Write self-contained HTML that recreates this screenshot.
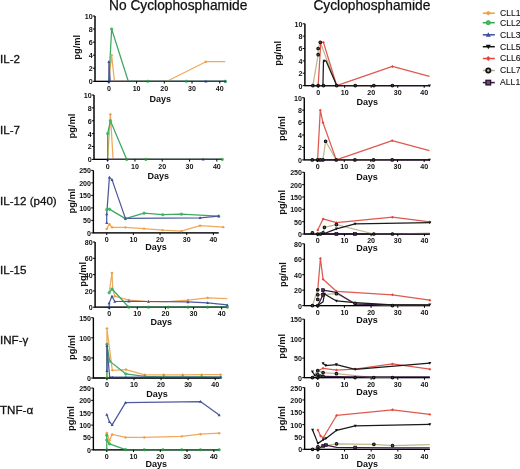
<!DOCTYPE html>
<html><head><meta charset="utf-8"><style>
html,body{margin:0;padding:0;background:#fff;}
svg{display:block;filter:blur(0.35px);}
text{font-family:"Liberation Sans", sans-serif;fill:#111;}
.tl{font-size:7.1px;font-weight:bold;}
.pg{font-size:9.3px;font-weight:bold;}
.dy{font-size:9px;font-weight:bold;}
.tt{font-size:13.75px;stroke:#111;stroke-width:0.25px;}
.rl{font-size:11.6px;stroke:#111;stroke-width:0.3px;}
.lg{font-size:8.6px;stroke:#111;stroke-width:0.1px;}
</style></head><body>
<svg width="520" height="469" viewBox="0 0 520 469">
<rect width="520" height="469" fill="#fff"/>
<path d="M95.00 16.00V81.30H225.30" fill="none" stroke="#000" stroke-width="1.3"/>
<polyline points="108.86,81.30 111.63,55.18 114.41,81.30 128.27,81.30 147.67,81.30 167.08,81.30 205.89,61.71 225.30,61.71" fill="none" stroke="#EEAA5E" stroke-width="1.25" stroke-linejoin="round"/>
<polyline points="108.86,81.30 111.63,29.06 128.27,81.30 147.67,81.30 167.08,81.30 186.49,81.30 225.30,81.30" fill="none" stroke="#3CA862" stroke-width="1.25" stroke-linejoin="round"/>
<polyline points="108.86,81.30 108.86,61.71 110.25,81.30 111.63,81.30 114.41,81.30 128.27,81.30 147.67,81.30 167.08,81.30 186.49,81.30 205.89,81.30 225.30,81.30" fill="none" stroke="#4E5A9E" stroke-width="1.25" stroke-linejoin="round"/>
<path d="M109.93 55.18L111.63 53.73L113.33 55.18L111.63 56.62Z" fill="#F0A040"/>
<path d="M204.19 61.71L205.89 60.27L207.59 61.71L205.89 63.16Z" fill="#F0A040"/>
<circle cx="111.63" cy="29.06" r="1.27" fill="#3fbf5f" stroke="#2DAA4E" stroke-width="0.51"/>
<circle cx="147.67" cy="81.30" r="1.27" fill="#3fbf5f" stroke="#2DAA4E" stroke-width="0.51"/>
<circle cx="186.49" cy="81.30" r="1.27" fill="#3fbf5f" stroke="#2DAA4E" stroke-width="0.51"/>
<circle cx="225.30" cy="81.30" r="1.27" fill="#3fbf5f" stroke="#2DAA4E" stroke-width="0.51"/>
<path d="M107.33 62.93L108.86 60.18L110.39 62.93Z" fill="#3B4E9E"/>
<path d="M107.33 82.52L108.86 79.77L110.39 82.52Z" fill="#3B4E9E"/>
<path d="M204.36 82.52L205.89 79.77L207.42 82.52Z" fill="#3B4E9E"/>
<path d="M223.77 82.52L225.30 79.77L226.83 82.52Z" fill="#3B4E9E"/>
<path d="M95.00 16.00V81.30H225.30" fill="none" stroke="#000" stroke-width="1.3" opacity="0.35"/>
<text x="92.60" y="84.20" class="tl" text-anchor="end">0</text>
<text x="92.60" y="71.14" class="tl" text-anchor="end">2</text>
<text x="92.60" y="58.08" class="tl" text-anchor="end">4</text>
<text x="92.60" y="45.02" class="tl" text-anchor="end">6</text>
<text x="92.60" y="31.96" class="tl" text-anchor="end">8</text>
<text x="92.60" y="18.90" class="tl" text-anchor="end">10</text>
<text x="108.86" y="90.50" class="tl" text-anchor="middle">0</text>
<text x="136.59" y="90.50" class="tl" text-anchor="middle">10</text>
<text x="164.31" y="90.50" class="tl" text-anchor="middle">20</text>
<text x="192.03" y="90.50" class="tl" text-anchor="middle">30</text>
<text x="219.76" y="90.50" class="tl" text-anchor="middle">40</text>
<path d="M92.80 81.30H95.00 M92.80 68.24H95.00 M92.80 55.18H95.00 M92.80 42.12H95.00 M92.80 29.06H95.00 M92.80 16.00H95.00 M108.86 81.30V83.50 M136.59 81.30V83.50 M164.31 81.30V83.50 M192.03 81.30V83.50 M219.76 81.30V83.50" stroke="#000" stroke-width="1"/>
<text transform="translate(79.80,47.30) rotate(-90)" class="pg" text-anchor="middle">pg/ml</text>
<text x="160.15" y="101.70" class="dy" text-anchor="middle">Days</text>
<path d="M94.00 95.00V159.40H222.30" fill="none" stroke="#000" stroke-width="1.3"/>
<polyline points="107.65,159.40 110.38,114.32 113.11,159.40 126.76,159.40 145.87,159.40 164.97,159.40 184.08,159.40 203.19,159.40 222.30,159.40" fill="none" stroke="#EEAA5E" stroke-width="1.25" stroke-linejoin="round"/>
<polyline points="107.65,159.40 107.65,133.64 110.38,120.76 126.76,159.40 145.87,159.40 164.97,159.40 184.08,159.40 203.19,159.40 222.30,159.40" fill="none" stroke="#3CA862" stroke-width="1.25" stroke-linejoin="round"/>
<polyline points="107.65,159.40 110.38,159.40 113.11,159.40 126.76,159.40 145.87,159.40 164.97,159.40 184.08,159.40 203.19,159.40 222.30,159.40" fill="none" stroke="#4E5A9E" stroke-width="1.25" stroke-linejoin="round"/>
<path d="M108.68 114.32L110.38 112.88L112.08 114.32L110.38 115.76Z" fill="#F0A040"/>
<circle cx="107.65" cy="133.64" r="1.27" fill="#3fbf5f" stroke="#2DAA4E" stroke-width="0.51"/>
<circle cx="110.38" cy="120.76" r="1.27" fill="#3fbf5f" stroke="#2DAA4E" stroke-width="0.51"/>
<circle cx="126.76" cy="159.40" r="1.27" fill="#3fbf5f" stroke="#2DAA4E" stroke-width="0.51"/>
<circle cx="145.87" cy="159.40" r="1.27" fill="#3fbf5f" stroke="#2DAA4E" stroke-width="0.51"/>
<circle cx="222.30" cy="159.40" r="1.27" fill="#3fbf5f" stroke="#2DAA4E" stroke-width="0.51"/>
<path d="M106.12 160.62L107.65 157.87L109.18 160.62Z" fill="#3B4E9E"/>
<path d="M201.66 160.62L203.19 157.87L204.72 160.62Z" fill="#3B4E9E"/>
<path d="M94.00 95.00V159.40H222.30" fill="none" stroke="#000" stroke-width="1.3" opacity="0.35"/>
<text x="91.60" y="162.30" class="tl" text-anchor="end">0</text>
<text x="91.60" y="149.42" class="tl" text-anchor="end">2</text>
<text x="91.60" y="136.54" class="tl" text-anchor="end">4</text>
<text x="91.60" y="123.66" class="tl" text-anchor="end">6</text>
<text x="91.60" y="110.78" class="tl" text-anchor="end">8</text>
<text x="91.60" y="97.90" class="tl" text-anchor="end">10</text>
<text x="107.65" y="168.60" class="tl" text-anchor="middle">0</text>
<text x="134.95" y="168.60" class="tl" text-anchor="middle">10</text>
<text x="162.24" y="168.60" class="tl" text-anchor="middle">20</text>
<text x="189.54" y="168.60" class="tl" text-anchor="middle">30</text>
<text x="216.84" y="168.60" class="tl" text-anchor="middle">40</text>
<path d="M91.80 159.40H94.00 M91.80 146.52H94.00 M91.80 133.64H94.00 M91.80 120.76H94.00 M91.80 107.88H94.00 M91.80 95.00H94.00 M107.65 159.40V161.60 M134.95 159.40V161.60 M162.24 159.40V161.60 M189.54 159.40V161.60 M216.84 159.40V161.60" stroke="#000" stroke-width="1"/>
<text transform="translate(75.00,126.10) rotate(-90)" class="pg" text-anchor="middle">pg/ml</text>
<text x="158.15" y="179.20" class="dy" text-anchor="middle">Days</text>
<path d="M93.40 170.40V232.90H218.70" fill="none" stroke="#000" stroke-width="1.3"/>
<polyline points="106.73,228.90 109.40,224.15 112.06,227.40 125.39,227.40 144.05,228.65 162.71,230.15 181.38,231.15 200.04,225.65 223.23,227.15" fill="none" stroke="#EEAA5E" stroke-width="1.25" stroke-linejoin="round"/>
<polyline points="106.73,209.65 109.40,209.15 125.39,218.65 144.05,213.15 162.71,214.65 181.38,214.15 218.70,216.15" fill="none" stroke="#3CA862" stroke-width="1.25" stroke-linejoin="round"/>
<polyline points="106.73,222.90 106.73,214.15 109.40,177.40 112.06,179.90 125.39,218.40 200.04,217.90 218.70,216.15" fill="none" stroke="#4E5A9E" stroke-width="1.25" stroke-linejoin="round"/>
<path d="M105.03 228.90L106.73 227.46L108.43 228.90L106.73 230.34Z" fill="#F0A040"/>
<path d="M107.70 224.15L109.40 222.71L111.10 224.15L109.40 225.59Z" fill="#F0A040"/>
<path d="M110.36 227.40L112.06 225.96L113.76 227.40L112.06 228.84Z" fill="#F0A040"/>
<path d="M123.69 227.40L125.39 225.96L127.09 227.40L125.39 228.84Z" fill="#F0A040"/>
<path d="M142.35 228.65L144.05 227.21L145.75 228.65L144.05 230.09Z" fill="#F0A040"/>
<path d="M161.01 230.15L162.71 228.71L164.41 230.15L162.71 231.59Z" fill="#F0A040"/>
<path d="M179.68 231.15L181.38 229.71L183.08 231.15L181.38 232.59Z" fill="#F0A040"/>
<path d="M198.34 225.65L200.04 224.21L201.74 225.65L200.04 227.09Z" fill="#F0A040"/>
<path d="M221.53 227.15L223.23 225.71L224.93 227.15L223.23 228.59Z" fill="#F0A040"/>
<circle cx="106.73" cy="209.65" r="1.27" fill="#3fbf5f" stroke="#2DAA4E" stroke-width="0.51"/>
<circle cx="109.40" cy="209.15" r="1.27" fill="#3fbf5f" stroke="#2DAA4E" stroke-width="0.51"/>
<circle cx="125.39" cy="218.65" r="1.27" fill="#3fbf5f" stroke="#2DAA4E" stroke-width="0.51"/>
<circle cx="144.05" cy="213.15" r="1.27" fill="#3fbf5f" stroke="#2DAA4E" stroke-width="0.51"/>
<circle cx="162.71" cy="214.65" r="1.27" fill="#3fbf5f" stroke="#2DAA4E" stroke-width="0.51"/>
<circle cx="181.38" cy="214.15" r="1.27" fill="#3fbf5f" stroke="#2DAA4E" stroke-width="0.51"/>
<circle cx="218.70" cy="216.15" r="1.27" fill="#3fbf5f" stroke="#2DAA4E" stroke-width="0.51"/>
<path d="M105.20 224.12L106.73 221.37L108.26 224.12Z" fill="#3B4E9E"/>
<path d="M105.20 215.37L106.73 212.62L108.26 215.37Z" fill="#3B4E9E"/>
<path d="M107.87 178.62L109.40 175.87L110.93 178.62Z" fill="#3B4E9E"/>
<path d="M110.53 181.12L112.06 178.37L113.59 181.12Z" fill="#3B4E9E"/>
<path d="M123.86 219.62L125.39 216.87L126.92 219.62Z" fill="#3B4E9E"/>
<path d="M198.51 219.12L200.04 216.37L201.57 219.12Z" fill="#3B4E9E"/>
<path d="M217.17 217.37L218.70 214.62L220.23 217.37Z" fill="#3B4E9E"/>
<path d="M93.40 170.40V232.90H218.70" fill="none" stroke="#000" stroke-width="1.3" opacity="0.35"/>
<text x="91.00" y="235.80" class="tl" text-anchor="end">0</text>
<text x="91.00" y="223.30" class="tl" text-anchor="end">50</text>
<text x="91.00" y="210.80" class="tl" text-anchor="end">100</text>
<text x="91.00" y="198.30" class="tl" text-anchor="end">150</text>
<text x="91.00" y="185.80" class="tl" text-anchor="end">200</text>
<text x="91.00" y="173.30" class="tl" text-anchor="end">250</text>
<text x="106.73" y="242.10" class="tl" text-anchor="middle">0</text>
<text x="133.39" y="242.10" class="tl" text-anchor="middle">10</text>
<text x="160.05" y="242.10" class="tl" text-anchor="middle">20</text>
<text x="186.71" y="242.10" class="tl" text-anchor="middle">30</text>
<text x="213.37" y="242.10" class="tl" text-anchor="middle">40</text>
<path d="M91.20 232.90H93.40 M91.20 220.40H93.40 M91.20 207.90H93.40 M91.20 195.40H93.40 M91.20 182.90H93.40 M91.20 170.40H93.40 M106.73 232.90V235.10 M133.39 232.90V235.10 M160.05 232.90V235.10 M186.71 232.90V235.10 M213.37 232.90V235.10" stroke="#000" stroke-width="1"/>
<text transform="translate(75.00,201.10) rotate(-90)" class="pg" text-anchor="middle">pg/ml</text>
<text x="156.05" y="250.20" class="dy" text-anchor="middle">Days</text>
<path d="M95.10 242.00V307.20H227.30" fill="none" stroke="#000" stroke-width="1.3"/>
<polyline points="109.16,292.53 111.98,272.97 112.82,289.27 114.79,296.20 128.85,300.03 148.54,301.50 168.23,301.50 187.92,300.11 207.61,297.83 227.30,298.64" fill="none" stroke="#EEAA5E" stroke-width="1.25" stroke-linejoin="round"/>
<polyline points="109.16,292.77 111.98,289.03 128.85,307.20 148.54,307.20 168.23,307.20 187.92,307.20 207.61,307.20 227.30,307.20" fill="none" stroke="#3CA862" stroke-width="1.25" stroke-linejoin="round"/>
<polyline points="109.16,307.20 109.16,303.12 111.98,296.20 114.79,301.50 128.85,301.33 148.54,301.50 187.92,301.90 207.61,302.88 227.30,304.92" fill="none" stroke="#4E5A9E" stroke-width="1.25" stroke-linejoin="round"/>
<path d="M110.28 272.97L111.98 271.52L113.68 272.97L111.98 274.41Z" fill="#F0A040"/>
<path d="M113.09 296.20L114.79 294.75L116.49 296.20L114.79 297.64Z" fill="#F0A040"/>
<path d="M127.15 300.03L128.85 298.58L130.55 300.03L128.85 301.47Z" fill="#F0A040"/>
<path d="M146.84 301.50L148.54 300.05L150.24 301.50L148.54 302.94Z" fill="#F0A040"/>
<path d="M186.22 300.11L187.92 298.66L189.62 300.11L187.92 301.55Z" fill="#F0A040"/>
<path d="M205.91 297.83L207.61 296.38L209.31 297.83L207.61 299.27Z" fill="#F0A040"/>
<circle cx="109.16" cy="292.77" r="1.27" fill="#3fbf5f" stroke="#2DAA4E" stroke-width="0.51"/>
<circle cx="111.98" cy="289.03" r="1.27" fill="#3fbf5f" stroke="#2DAA4E" stroke-width="0.51"/>
<circle cx="128.85" cy="307.20" r="1.27" fill="#3fbf5f" stroke="#2DAA4E" stroke-width="0.51"/>
<circle cx="148.54" cy="307.20" r="1.27" fill="#3fbf5f" stroke="#2DAA4E" stroke-width="0.51"/>
<circle cx="168.23" cy="307.20" r="1.27" fill="#3fbf5f" stroke="#2DAA4E" stroke-width="0.51"/>
<circle cx="187.92" cy="307.20" r="1.27" fill="#3fbf5f" stroke="#2DAA4E" stroke-width="0.51"/>
<circle cx="207.61" cy="307.20" r="1.27" fill="#3fbf5f" stroke="#2DAA4E" stroke-width="0.51"/>
<circle cx="227.30" cy="307.20" r="1.27" fill="#3fbf5f" stroke="#2DAA4E" stroke-width="0.51"/>
<path d="M107.63 308.42L109.16 305.67L110.69 308.42Z" fill="#3B4E9E"/>
<path d="M107.63 304.35L109.16 301.60L110.69 304.35Z" fill="#3B4E9E"/>
<path d="M110.45 297.42L111.98 294.67L113.51 297.42Z" fill="#3B4E9E"/>
<path d="M113.26 302.72L114.79 299.97L116.32 302.72Z" fill="#3B4E9E"/>
<path d="M127.32 302.56L128.85 299.80L130.38 302.56Z" fill="#3B4E9E"/>
<path d="M147.01 302.72L148.54 299.97L150.07 302.72Z" fill="#3B4E9E"/>
<path d="M186.39 303.13L187.92 300.37L189.45 303.13Z" fill="#3B4E9E"/>
<path d="M206.08 304.10L207.61 301.35L209.14 304.10Z" fill="#3B4E9E"/>
<path d="M225.77 306.14L227.30 303.39L228.83 306.14Z" fill="#3B4E9E"/>
<path d="M95.10 242.00V307.20H227.30" fill="none" stroke="#000" stroke-width="1.3" opacity="0.35"/>
<text x="92.70" y="310.10" class="tl" text-anchor="end">0</text>
<text x="92.70" y="293.80" class="tl" text-anchor="end">20</text>
<text x="92.70" y="277.50" class="tl" text-anchor="end">40</text>
<text x="92.70" y="261.20" class="tl" text-anchor="end">60</text>
<text x="92.70" y="244.90" class="tl" text-anchor="end">80</text>
<text x="109.16" y="316.40" class="tl" text-anchor="middle">0</text>
<text x="137.29" y="316.40" class="tl" text-anchor="middle">10</text>
<text x="165.42" y="316.40" class="tl" text-anchor="middle">20</text>
<text x="193.55" y="316.40" class="tl" text-anchor="middle">30</text>
<text x="221.67" y="316.40" class="tl" text-anchor="middle">40</text>
<path d="M92.90 307.20H95.10 M92.90 290.90H95.10 M92.90 274.60H95.10 M92.90 258.30H95.10 M92.90 242.00H95.10 M109.16 307.20V309.40 M137.29 307.20V309.40 M165.42 307.20V309.40 M193.55 307.20V309.40 M221.67 307.20V309.40" stroke="#000" stroke-width="1"/>
<text transform="translate(85.80,274.30) rotate(-90)" class="pg" text-anchor="middle">pg/ml</text>
<text x="161.20" y="325.40" class="dy" text-anchor="middle">Days</text>
<path d="M93.40 317.70V378.00H220.60" fill="none" stroke="#000" stroke-width="1.3"/>
<polyline points="106.93,378.00 106.93,328.55 112.34,370.36 125.88,369.56 144.82,374.78 163.77,374.78 182.71,374.78 201.66,374.58 220.60,374.58" fill="none" stroke="#EEAA5E" stroke-width="1.25" stroke-linejoin="round"/>
<polyline points="106.93,378.00 106.93,344.23 109.64,361.12 125.88,373.98 144.82,376.39 163.77,376.79 182.71,376.79 201.66,376.79 220.60,377.20" fill="none" stroke="#3CA862" stroke-width="1.25" stroke-linejoin="round"/>
<polyline points="106.93,370.76 106.93,345.84 109.64,376.79 112.34,377.20 125.88,377.20 144.82,377.20 163.77,377.20 182.71,377.20 201.66,377.20 220.60,377.20" fill="none" stroke="#4E5A9E" stroke-width="1.25" stroke-linejoin="round"/>
<path d="M105.23 378.00L106.93 376.56L108.63 378.00L106.93 379.44Z" fill="#F0A040"/>
<path d="M105.23 328.55L106.93 327.11L108.63 328.55L106.93 330.00Z" fill="#F0A040"/>
<path d="M110.64 370.36L112.34 368.92L114.04 370.36L112.34 371.81Z" fill="#F0A040"/>
<path d="M124.18 369.56L125.88 368.11L127.58 369.56L125.88 371.00Z" fill="#F0A040"/>
<path d="M143.12 374.78L144.82 373.34L146.52 374.78L144.82 376.23Z" fill="#F0A040"/>
<path d="M162.07 374.78L163.77 373.34L165.47 374.78L163.77 376.23Z" fill="#F0A040"/>
<path d="M181.01 374.78L182.71 373.34L184.41 374.78L182.71 376.23Z" fill="#F0A040"/>
<path d="M199.96 374.58L201.66 373.14L203.36 374.58L201.66 376.03Z" fill="#F0A040"/>
<path d="M218.90 374.58L220.60 373.14L222.30 374.58L220.60 376.03Z" fill="#F0A040"/>
<circle cx="106.93" cy="378.00" r="1.27" fill="#3fbf5f" stroke="#2DAA4E" stroke-width="0.51"/>
<circle cx="106.93" cy="344.23" r="1.27" fill="#3fbf5f" stroke="#2DAA4E" stroke-width="0.51"/>
<circle cx="109.64" cy="361.12" r="1.27" fill="#3fbf5f" stroke="#2DAA4E" stroke-width="0.51"/>
<circle cx="125.88" cy="373.98" r="1.27" fill="#3fbf5f" stroke="#2DAA4E" stroke-width="0.51"/>
<circle cx="144.82" cy="376.39" r="1.27" fill="#3fbf5f" stroke="#2DAA4E" stroke-width="0.51"/>
<circle cx="163.77" cy="376.79" r="1.27" fill="#3fbf5f" stroke="#2DAA4E" stroke-width="0.51"/>
<circle cx="182.71" cy="376.79" r="1.27" fill="#3fbf5f" stroke="#2DAA4E" stroke-width="0.51"/>
<circle cx="201.66" cy="376.79" r="1.27" fill="#3fbf5f" stroke="#2DAA4E" stroke-width="0.51"/>
<circle cx="220.60" cy="377.20" r="1.27" fill="#3fbf5f" stroke="#2DAA4E" stroke-width="0.51"/>
<path d="M105.40 371.99L106.93 369.23L108.46 371.99Z" fill="#3B4E9E"/>
<path d="M105.40 347.06L106.93 344.31L108.46 347.06Z" fill="#3B4E9E"/>
<path d="M108.11 378.02L109.64 375.26L111.17 378.02Z" fill="#3B4E9E"/>
<path d="M110.81 378.42L112.34 375.67L113.87 378.42Z" fill="#3B4E9E"/>
<path d="M124.35 378.42L125.88 375.67L127.41 378.42Z" fill="#3B4E9E"/>
<path d="M143.29 378.42L144.82 375.67L146.35 378.42Z" fill="#3B4E9E"/>
<path d="M162.24 378.42L163.77 375.67L165.30 378.42Z" fill="#3B4E9E"/>
<path d="M181.18 378.42L182.71 375.67L184.24 378.42Z" fill="#3B4E9E"/>
<path d="M200.13 378.42L201.66 375.67L203.19 378.42Z" fill="#3B4E9E"/>
<path d="M219.07 378.42L220.60 375.67L222.13 378.42Z" fill="#3B4E9E"/>
<path d="M93.40 317.70V378.00H220.60" fill="none" stroke="#000" stroke-width="1.3" opacity="0.35"/>
<text x="91.00" y="380.90" class="tl" text-anchor="end">0</text>
<text x="91.00" y="360.80" class="tl" text-anchor="end">50</text>
<text x="91.00" y="340.70" class="tl" text-anchor="end">100</text>
<text x="91.00" y="320.60" class="tl" text-anchor="end">150</text>
<text x="106.93" y="387.20" class="tl" text-anchor="middle">0</text>
<text x="134.00" y="387.20" class="tl" text-anchor="middle">10</text>
<text x="161.06" y="387.20" class="tl" text-anchor="middle">20</text>
<text x="188.12" y="387.20" class="tl" text-anchor="middle">30</text>
<text x="215.19" y="387.20" class="tl" text-anchor="middle">40</text>
<path d="M91.20 378.00H93.40 M91.20 357.90H93.40 M91.20 337.80H93.40 M91.20 317.70H93.40 M106.93 378.00V380.20 M134.00 378.00V380.20 M161.06 378.00V380.20 M188.12 378.00V380.20 M215.19 378.00V380.20" stroke="#000" stroke-width="1"/>
<text transform="translate(74.80,347.50) rotate(-90)" class="pg" text-anchor="middle">pg/ml</text>
<text x="157.00" y="396.50" class="dy" text-anchor="middle">Days</text>
<path d="M93.40 388.00V449.80H219.20" fill="none" stroke="#000" stroke-width="1.3"/>
<polyline points="106.78,432.99 109.46,440.65 112.14,434.47 125.52,437.44 144.26,437.44 181.73,436.33 200.46,434.23 219.20,433.24" fill="none" stroke="#EEAA5E" stroke-width="1.25" stroke-linejoin="round"/>
<polyline points="106.78,449.80 106.78,435.22 106.78,439.91 109.46,443.87 125.52,449.55 144.26,449.80 162.99,449.80 181.73,449.80 200.46,449.80 219.20,449.80" fill="none" stroke="#3CA862" stroke-width="1.25" stroke-linejoin="round"/>
<polyline points="106.78,414.45 109.46,421.87 112.14,424.83 125.52,402.58 200.46,401.60 219.20,414.94" fill="none" stroke="#4E5A9E" stroke-width="1.25" stroke-linejoin="round"/>
<path d="M105.08 432.99L106.78 431.55L108.48 432.99L106.78 434.44Z" fill="#F0A040"/>
<path d="M107.76 440.65L109.46 439.21L111.16 440.65L109.46 442.10Z" fill="#F0A040"/>
<path d="M110.44 434.47L112.14 433.03L113.84 434.47L112.14 435.92Z" fill="#F0A040"/>
<path d="M123.82 437.44L125.52 436.00L127.22 437.44L125.52 438.88Z" fill="#F0A040"/>
<path d="M142.56 437.44L144.26 436.00L145.96 437.44L144.26 438.88Z" fill="#F0A040"/>
<path d="M180.03 436.33L181.73 434.88L183.43 436.33L181.73 437.77Z" fill="#F0A040"/>
<path d="M198.76 434.23L200.46 432.78L202.16 434.23L200.46 435.67Z" fill="#F0A040"/>
<path d="M217.50 433.24L219.20 431.79L220.90 433.24L219.20 434.68Z" fill="#F0A040"/>
<circle cx="106.78" cy="449.80" r="1.27" fill="#3fbf5f" stroke="#2DAA4E" stroke-width="0.51"/>
<circle cx="106.78" cy="435.22" r="1.27" fill="#3fbf5f" stroke="#2DAA4E" stroke-width="0.51"/>
<circle cx="106.78" cy="439.91" r="1.27" fill="#3fbf5f" stroke="#2DAA4E" stroke-width="0.51"/>
<circle cx="109.46" cy="443.87" r="1.27" fill="#3fbf5f" stroke="#2DAA4E" stroke-width="0.51"/>
<circle cx="125.52" cy="449.55" r="1.27" fill="#3fbf5f" stroke="#2DAA4E" stroke-width="0.51"/>
<circle cx="144.26" cy="449.80" r="1.27" fill="#3fbf5f" stroke="#2DAA4E" stroke-width="0.51"/>
<circle cx="162.99" cy="449.80" r="1.27" fill="#3fbf5f" stroke="#2DAA4E" stroke-width="0.51"/>
<circle cx="181.73" cy="449.80" r="1.27" fill="#3fbf5f" stroke="#2DAA4E" stroke-width="0.51"/>
<circle cx="200.46" cy="449.80" r="1.27" fill="#3fbf5f" stroke="#2DAA4E" stroke-width="0.51"/>
<circle cx="219.20" cy="449.80" r="1.27" fill="#3fbf5f" stroke="#2DAA4E" stroke-width="0.51"/>
<path d="M105.25 415.67L106.78 412.92L108.31 415.67Z" fill="#3B4E9E"/>
<path d="M107.93 423.09L109.46 420.34L110.99 423.09Z" fill="#3B4E9E"/>
<path d="M110.61 426.06L112.14 423.30L113.67 426.06Z" fill="#3B4E9E"/>
<path d="M123.99 403.81L125.52 401.05L127.05 403.81Z" fill="#3B4E9E"/>
<path d="M198.93 402.82L200.46 400.07L201.99 402.82Z" fill="#3B4E9E"/>
<path d="M217.67 416.17L219.20 413.41L220.73 416.17Z" fill="#3B4E9E"/>
<path d="M93.40 388.00V449.80H219.20" fill="none" stroke="#000" stroke-width="1.3" opacity="0.35"/>
<text x="91.00" y="452.70" class="tl" text-anchor="end">0</text>
<text x="91.00" y="440.34" class="tl" text-anchor="end">50</text>
<text x="91.00" y="427.98" class="tl" text-anchor="end">100</text>
<text x="91.00" y="415.62" class="tl" text-anchor="end">150</text>
<text x="91.00" y="403.26" class="tl" text-anchor="end">200</text>
<text x="91.00" y="390.90" class="tl" text-anchor="end">250</text>
<text x="106.78" y="459.00" class="tl" text-anchor="middle">0</text>
<text x="133.55" y="459.00" class="tl" text-anchor="middle">10</text>
<text x="160.31" y="459.00" class="tl" text-anchor="middle">20</text>
<text x="187.08" y="459.00" class="tl" text-anchor="middle">30</text>
<text x="213.85" y="459.00" class="tl" text-anchor="middle">40</text>
<path d="M91.20 449.80H93.40 M91.20 437.44H93.40 M91.20 425.08H93.40 M91.20 412.72H93.40 M91.20 400.36H93.40 M91.20 388.00H93.40 M106.78 449.80V452.00 M133.55 449.80V452.00 M160.31 449.80V452.00 M187.08 449.80V452.00 M213.85 449.80V452.00" stroke="#000" stroke-width="1"/>
<text transform="translate(74.10,418.50) rotate(-90)" class="pg" text-anchor="middle">pg/ml</text>
<text x="156.30" y="466.70" class="dy" text-anchor="middle">Days</text>
<path d="M304.90 23.80V85.60H429.50" fill="none" stroke="#000" stroke-width="1.3"/>
<polyline points="312.85,85.60 318.16,54.70 318.16,48.52 320.28,42.34 336.71,85.60 355.27,85.60 373.83,85.60 392.39,85.60" fill="none" stroke="#C2B68E" stroke-width="1.25" stroke-linejoin="round"/>
<polyline points="318.16,85.60 320.81,42.34 323.46,42.34 336.71,85.60 392.39,66.44 429.50,76.33" fill="none" stroke="#DD5A50" stroke-width="1.25" stroke-linejoin="round"/>
<polyline points="312.85,85.60 429.50,85.60" fill="none" stroke="#3A1A48" stroke-width="1.25" stroke-linejoin="round"/>
<polyline points="322.93,85.60 323.46,60.88 326.11,60.88 336.71,85.60" fill="none" stroke="#1a1a1a" stroke-width="1.25" stroke-linejoin="round"/>
<path d="M319.36 42.34L320.81 40.89L322.25 42.34L320.81 43.78Z" fill="#E8453A"/>
<path d="M322.01 42.34L323.46 40.89L324.90 42.34L323.46 43.78Z" fill="#E8453A"/>
<path d="M390.94 66.44L392.39 65.00L393.83 66.44L392.39 67.89Z" fill="#E8453A"/>
<circle cx="312.85" cy="85.60" r="1.32" fill="#555" stroke="#111" stroke-width="1.06"/>
<circle cx="318.16" cy="85.60" r="1.32" fill="#555" stroke="#111" stroke-width="1.06"/>
<circle cx="323.46" cy="85.60" r="1.32" fill="#555" stroke="#111" stroke-width="1.06"/>
<circle cx="318.16" cy="54.70" r="1.32" fill="#555" stroke="#111" stroke-width="1.06"/>
<circle cx="318.16" cy="48.52" r="1.32" fill="#555" stroke="#111" stroke-width="1.06"/>
<circle cx="320.28" cy="42.34" r="1.32" fill="#555" stroke="#111" stroke-width="1.06"/>
<circle cx="336.71" cy="85.60" r="1.32" fill="#555" stroke="#111" stroke-width="1.06"/>
<circle cx="355.27" cy="85.60" r="1.32" fill="#555" stroke="#111" stroke-width="1.06"/>
<circle cx="373.83" cy="85.60" r="1.32" fill="#555" stroke="#111" stroke-width="1.06"/>
<circle cx="392.39" cy="85.60" r="1.32" fill="#555" stroke="#111" stroke-width="1.06"/>
<path d="M322.72 59.66L325.78 59.66L324.25 62.41Z" fill="#111111"/>
<path d="M427.97 84.38L431.03 84.38L429.50 87.13Z" fill="#111111"/>
<path d="M304.90 23.80V85.60H429.50" fill="none" stroke="#000" stroke-width="1.3" opacity="0.35"/>
<text x="302.50" y="88.50" class="tl" text-anchor="end">0</text>
<text x="302.50" y="76.14" class="tl" text-anchor="end">2</text>
<text x="302.50" y="63.78" class="tl" text-anchor="end">4</text>
<text x="302.50" y="51.42" class="tl" text-anchor="end">6</text>
<text x="302.50" y="39.06" class="tl" text-anchor="end">8</text>
<text x="302.50" y="26.70" class="tl" text-anchor="end">10</text>
<text x="318.16" y="94.80" class="tl" text-anchor="middle">0</text>
<text x="344.67" y="94.80" class="tl" text-anchor="middle">10</text>
<text x="371.18" y="94.80" class="tl" text-anchor="middle">20</text>
<text x="397.69" y="94.80" class="tl" text-anchor="middle">30</text>
<text x="424.20" y="94.80" class="tl" text-anchor="middle">40</text>
<path d="M302.70 85.60H304.90 M302.70 73.24H304.90 M302.70 60.88H304.90 M302.70 48.52H304.90 M302.70 36.16H304.90 M302.70 23.80H304.90 M318.16 85.60V87.80 M344.67 85.60V87.80 M371.18 85.60V87.80 M397.69 85.60V87.80 M424.20 85.60V87.80" stroke="#000" stroke-width="1"/>
<text transform="translate(280.70,53.40) rotate(-90)" class="pg" text-anchor="middle">pg/ml</text>
<text x="367.20" y="105.20" class="dy" text-anchor="middle">Days</text>
<path d="M304.30 97.70V159.90H429.50" fill="none" stroke="#000" stroke-width="1.3"/>
<polyline points="312.29,159.90 317.62,159.90 320.28,159.90 322.95,159.90 325.61,141.24 336.27,159.90 354.91,159.90 373.56,159.90 392.21,159.90" fill="none" stroke="#C2B68E" stroke-width="1.25" stroke-linejoin="round"/>
<polyline points="317.62,159.90 320.28,110.14 322.95,122.58 336.27,159.90 392.21,140.62 429.50,150.57" fill="none" stroke="#DD5A50" stroke-width="1.25" stroke-linejoin="round"/>
<polyline points="312.29,159.90 429.50,159.90" fill="none" stroke="#3A1A48" stroke-width="1.25" stroke-linejoin="round"/>
<path d="M318.84 110.14L320.28 108.70L321.73 110.14L320.28 111.58Z" fill="#E8453A"/>
<path d="M321.50 122.58L322.95 121.14L324.39 122.58L322.95 124.02Z" fill="#E8453A"/>
<path d="M390.76 140.62L392.21 139.17L393.65 140.62L392.21 142.06Z" fill="#E8453A"/>
<circle cx="312.29" cy="159.90" r="1.32" fill="#555" stroke="#111" stroke-width="1.06"/>
<circle cx="317.62" cy="159.90" r="1.32" fill="#555" stroke="#111" stroke-width="1.06"/>
<circle cx="320.28" cy="159.90" r="1.32" fill="#555" stroke="#111" stroke-width="1.06"/>
<circle cx="322.95" cy="159.90" r="1.32" fill="#555" stroke="#111" stroke-width="1.06"/>
<circle cx="325.61" cy="141.24" r="1.32" fill="#555" stroke="#111" stroke-width="1.06"/>
<circle cx="336.27" cy="159.90" r="1.32" fill="#555" stroke="#111" stroke-width="1.06"/>
<circle cx="354.91" cy="159.90" r="1.32" fill="#555" stroke="#111" stroke-width="1.06"/>
<circle cx="373.56" cy="159.90" r="1.32" fill="#555" stroke="#111" stroke-width="1.06"/>
<circle cx="392.21" cy="159.90" r="1.32" fill="#555" stroke="#111" stroke-width="1.06"/>
<path d="M427.97 158.68L431.03 158.68L429.50 161.43Z" fill="#111111"/>
<path d="M304.30 97.70V159.90H429.50" fill="none" stroke="#000" stroke-width="1.3" opacity="0.35"/>
<text x="301.90" y="162.80" class="tl" text-anchor="end">0</text>
<text x="301.90" y="150.36" class="tl" text-anchor="end">2</text>
<text x="301.90" y="137.92" class="tl" text-anchor="end">4</text>
<text x="301.90" y="125.48" class="tl" text-anchor="end">6</text>
<text x="301.90" y="113.04" class="tl" text-anchor="end">8</text>
<text x="301.90" y="100.60" class="tl" text-anchor="end">10</text>
<text x="317.62" y="169.10" class="tl" text-anchor="middle">0</text>
<text x="344.26" y="169.10" class="tl" text-anchor="middle">10</text>
<text x="370.90" y="169.10" class="tl" text-anchor="middle">20</text>
<text x="397.53" y="169.10" class="tl" text-anchor="middle">30</text>
<text x="424.17" y="169.10" class="tl" text-anchor="middle">40</text>
<path d="M302.10 159.90H304.30 M302.10 147.46H304.30 M302.10 135.02H304.30 M302.10 122.58H304.30 M302.10 110.14H304.30 M302.10 97.70H304.30 M317.62 159.90V162.10 M344.26 159.90V162.10 M370.90 159.90V162.10 M397.53 159.90V162.10 M424.17 159.90V162.10" stroke="#000" stroke-width="1"/>
<text transform="translate(285.30,128.50) rotate(-90)" class="pg" text-anchor="middle">pg/ml</text>
<text x="366.90" y="179.50" class="dy" text-anchor="middle">Days</text>
<path d="M304.40 172.30V234.00H429.80" fill="none" stroke="#000" stroke-width="1.3"/>
<polyline points="312.40,232.77 317.74,234.00 320.41,234.00 323.08,232.77 324.41,227.34 336.42,224.62 373.77,234.00 392.45,234.00 429.80,233.01" fill="none" stroke="#C2B68E" stroke-width="1.25" stroke-linejoin="round"/>
<polyline points="317.74,230.05 323.08,218.95 336.42,222.65 392.45,217.22 429.80,221.91" fill="none" stroke="#DD5A50" stroke-width="1.25" stroke-linejoin="round"/>
<polyline points="312.40,234.00 429.80,234.00" fill="none" stroke="#3A1A48" stroke-width="1.25" stroke-linejoin="round"/>
<polyline points="317.74,234.00 323.08,234.00 336.42,228.82 355.09,223.88 429.80,222.65" fill="none" stroke="#1a1a1a" stroke-width="1.25" stroke-linejoin="round"/>
<path d="M316.30 230.05L317.74 228.61L319.19 230.05L317.74 231.50Z" fill="#E8453A"/>
<path d="M321.63 218.95L323.08 217.50L324.52 218.95L323.08 220.39Z" fill="#E8453A"/>
<path d="M334.97 222.65L336.42 221.20L337.86 222.65L336.42 224.09Z" fill="#E8453A"/>
<path d="M391.00 217.22L392.45 215.77L393.89 217.22L392.45 218.66Z" fill="#E8453A"/>
<path d="M428.36 221.91L429.80 220.46L431.25 221.91L429.80 223.35Z" fill="#E8453A"/>
<rect x="334.97" y="232.56" width="2.89" height="2.89" fill="#4a2a55" stroke="#1a0a1e" stroke-width="0.68"/>
<rect x="353.65" y="232.56" width="2.89" height="2.89" fill="#4a2a55" stroke="#1a0a1e" stroke-width="0.68"/>
<circle cx="312.40" cy="232.77" r="1.32" fill="#555" stroke="#111" stroke-width="1.06"/>
<circle cx="317.74" cy="234.00" r="1.32" fill="#555" stroke="#111" stroke-width="1.06"/>
<circle cx="320.41" cy="234.00" r="1.32" fill="#555" stroke="#111" stroke-width="1.06"/>
<circle cx="323.08" cy="232.77" r="1.32" fill="#555" stroke="#111" stroke-width="1.06"/>
<circle cx="324.41" cy="227.34" r="1.32" fill="#555" stroke="#111" stroke-width="1.06"/>
<circle cx="336.42" cy="224.62" r="1.32" fill="#555" stroke="#111" stroke-width="1.06"/>
<circle cx="373.77" cy="234.00" r="1.32" fill="#555" stroke="#111" stroke-width="1.06"/>
<circle cx="392.45" cy="234.00" r="1.32" fill="#555" stroke="#111" stroke-width="1.06"/>
<path d="M334.89 227.59L337.95 227.59L336.42 230.35Z" fill="#111111"/>
<path d="M353.56 222.66L356.62 222.66L355.09 225.41Z" fill="#111111"/>
<path d="M428.27 221.42L431.33 221.42L429.80 224.18Z" fill="#111111"/>
<path d="M304.40 172.30V234.00H429.80" fill="none" stroke="#000" stroke-width="1.3" opacity="0.35"/>
<text x="302.00" y="236.90" class="tl" text-anchor="end">0</text>
<text x="302.00" y="224.56" class="tl" text-anchor="end">50</text>
<text x="302.00" y="212.22" class="tl" text-anchor="end">100</text>
<text x="302.00" y="199.88" class="tl" text-anchor="end">150</text>
<text x="302.00" y="187.54" class="tl" text-anchor="end">200</text>
<text x="302.00" y="175.20" class="tl" text-anchor="end">250</text>
<text x="317.74" y="243.20" class="tl" text-anchor="middle">0</text>
<text x="344.42" y="243.20" class="tl" text-anchor="middle">10</text>
<text x="371.10" y="243.20" class="tl" text-anchor="middle">20</text>
<text x="397.78" y="243.20" class="tl" text-anchor="middle">30</text>
<text x="424.46" y="243.20" class="tl" text-anchor="middle">40</text>
<path d="M302.20 234.00H304.40 M302.20 221.66H304.40 M302.20 209.32H304.40 M302.20 196.98H304.40 M302.20 184.64H304.40 M302.20 172.30H304.40 M317.74 234.00V236.20 M344.42 234.00V236.20 M371.10 234.00V236.20 M397.78 234.00V236.20 M424.46 234.00V236.20" stroke="#000" stroke-width="1"/>
<text transform="translate(285.10,202.40) rotate(-90)" class="pg" text-anchor="middle">pg/ml</text>
<text x="367.10" y="251.10" class="dy" text-anchor="middle">Days</text>
<path d="M304.40 243.80V305.60H429.80" fill="none" stroke="#000" stroke-width="1.3"/>
<polyline points="312.40,305.60 317.74,289.76 317.74,294.79 336.42,293.70 355.09,303.28 392.45,305.60 429.80,305.60" fill="none" stroke="#C2B68E" stroke-width="1.25" stroke-linejoin="round"/>
<polyline points="317.74,290.15 320.41,258.48 323.08,279.34 336.42,291.31 392.45,294.79 429.80,300.19" fill="none" stroke="#DD5A50" stroke-width="1.25" stroke-linejoin="round"/>
<polyline points="317.74,305.60 323.08,294.79 323.08,290.15 336.42,292.47 355.09,304.06 392.45,304.83 429.80,305.21" fill="none" stroke="#3A1A48" stroke-width="1.25" stroke-linejoin="round"/>
<polyline points="317.74,305.60 323.08,301.74 324.41,294.01 336.42,300.97 355.09,302.51 392.45,304.83 429.80,304.83" fill="none" stroke="#1a1a1a" stroke-width="1.25" stroke-linejoin="round"/>
<path d="M316.30 290.15L317.74 288.71L319.19 290.15L317.74 291.60Z" fill="#E8453A"/>
<path d="M318.96 258.48L320.41 257.03L321.85 258.48L320.41 259.92Z" fill="#E8453A"/>
<path d="M321.63 279.34L323.08 277.89L324.52 279.34L323.08 280.78Z" fill="#E8453A"/>
<path d="M334.97 291.31L336.42 289.86L337.86 291.31L336.42 292.75Z" fill="#E8453A"/>
<path d="M391.00 294.79L392.45 293.34L393.89 294.79L392.45 296.23Z" fill="#E8453A"/>
<path d="M428.36 300.19L429.80 298.75L431.25 300.19L429.80 301.64Z" fill="#E8453A"/>
<rect x="321.63" y="293.34" width="2.89" height="2.89" fill="#4a2a55" stroke="#1a0a1e" stroke-width="0.68"/>
<rect x="321.63" y="288.71" width="2.89" height="2.89" fill="#4a2a55" stroke="#1a0a1e" stroke-width="0.68"/>
<circle cx="312.40" cy="305.60" r="1.32" fill="#555" stroke="#111" stroke-width="1.06"/>
<circle cx="317.74" cy="289.76" r="1.32" fill="#555" stroke="#111" stroke-width="1.06"/>
<circle cx="317.74" cy="294.79" r="1.32" fill="#555" stroke="#111" stroke-width="1.06"/>
<circle cx="317.74" cy="299.42" r="1.32" fill="#555" stroke="#111" stroke-width="1.06"/>
<circle cx="317.74" cy="305.60" r="1.32" fill="#555" stroke="#111" stroke-width="1.06"/>
<circle cx="336.42" cy="293.70" r="1.32" fill="#555" stroke="#111" stroke-width="1.06"/>
<circle cx="355.09" cy="303.28" r="1.32" fill="#555" stroke="#111" stroke-width="1.06"/>
<circle cx="392.45" cy="305.60" r="1.32" fill="#555" stroke="#111" stroke-width="1.06"/>
<path d="M322.88 292.79L325.94 292.79L324.41 295.54Z" fill="#111111"/>
<path d="M334.89 299.74L337.95 299.74L336.42 302.50Z" fill="#111111"/>
<path d="M428.27 303.60L431.33 303.60L429.80 306.36Z" fill="#111111"/>
<path d="M304.40 243.80V305.60H429.80" fill="none" stroke="#000" stroke-width="1.3" opacity="0.35"/>
<text x="302.00" y="308.50" class="tl" text-anchor="end">0</text>
<text x="302.00" y="293.05" class="tl" text-anchor="end">20</text>
<text x="302.00" y="277.60" class="tl" text-anchor="end">40</text>
<text x="302.00" y="262.15" class="tl" text-anchor="end">60</text>
<text x="302.00" y="246.70" class="tl" text-anchor="end">80</text>
<text x="317.74" y="314.80" class="tl" text-anchor="middle">0</text>
<text x="344.42" y="314.80" class="tl" text-anchor="middle">10</text>
<text x="371.10" y="314.80" class="tl" text-anchor="middle">20</text>
<text x="397.78" y="314.80" class="tl" text-anchor="middle">30</text>
<text x="424.46" y="314.80" class="tl" text-anchor="middle">40</text>
<path d="M302.20 305.60H304.40 M302.20 290.15H304.40 M302.20 274.70H304.40 M302.20 259.25H304.40 M302.20 243.80H304.40 M317.74 305.60V307.80 M344.42 305.60V307.80 M371.10 305.60V307.80 M397.78 305.60V307.80 M424.46 305.60V307.80" stroke="#000" stroke-width="1"/>
<text transform="translate(285.60,274.60) rotate(-90)" class="pg" text-anchor="middle">pg/ml</text>
<text x="367.10" y="323.10" class="dy" text-anchor="middle">Days</text>
<path d="M304.40 319.20V377.60H429.80" fill="none" stroke="#000" stroke-width="1.3"/>
<polyline points="312.40,377.60 317.74,370.71 323.08,372.54 336.42,373.71 373.77,377.60 392.45,377.60" fill="none" stroke="#C2B68E" stroke-width="1.25" stroke-linejoin="round"/>
<polyline points="317.74,370.98 323.08,368.26 336.42,370.01 355.09,369.03 392.45,363.97 429.80,369.19" fill="none" stroke="#DD5A50" stroke-width="1.25" stroke-linejoin="round"/>
<polyline points="317.74,377.60 323.08,376.43 336.42,376.63 355.09,376.82 429.80,376.82" fill="none" stroke="#3A1A48" stroke-width="1.25" stroke-linejoin="round"/>
<polyline points="323.08,363.58 325.74,365.53 336.42,364.60 355.09,369.42 429.80,363.19" fill="none" stroke="#1a1a1a" stroke-width="1.25" stroke-linejoin="round"/>
<polyline points="312.40,371.76 315.07,375.65" fill="none" stroke="#1a1a1a" stroke-width="1.25" stroke-linejoin="round"/>
<path d="M316.30 370.98L317.74 369.54L319.19 370.98L317.74 372.43Z" fill="#E8453A"/>
<path d="M321.63 368.26L323.08 366.81L324.52 368.26L323.08 369.70Z" fill="#E8453A"/>
<path d="M334.97 370.01L336.42 368.56L337.86 370.01L336.42 371.45Z" fill="#E8453A"/>
<path d="M353.65 369.03L355.09 367.59L356.54 369.03L355.09 370.48Z" fill="#E8453A"/>
<path d="M391.00 363.97L392.45 362.53L393.89 363.97L392.45 365.42Z" fill="#E8453A"/>
<path d="M428.36 369.19L429.80 367.75L431.25 369.19L429.80 370.64Z" fill="#E8453A"/>
<circle cx="312.40" cy="377.60" r="1.32" fill="#555" stroke="#111" stroke-width="1.06"/>
<circle cx="317.74" cy="377.60" r="1.32" fill="#555" stroke="#111" stroke-width="1.06"/>
<circle cx="317.74" cy="374.49" r="1.32" fill="#555" stroke="#111" stroke-width="1.06"/>
<circle cx="317.74" cy="370.71" r="1.32" fill="#555" stroke="#111" stroke-width="1.06"/>
<circle cx="320.41" cy="376.04" r="1.32" fill="#555" stroke="#111" stroke-width="1.06"/>
<circle cx="323.08" cy="372.54" r="1.32" fill="#555" stroke="#111" stroke-width="1.06"/>
<circle cx="323.08" cy="376.43" r="1.32" fill="#555" stroke="#111" stroke-width="1.06"/>
<circle cx="336.42" cy="373.71" r="1.32" fill="#555" stroke="#111" stroke-width="1.06"/>
<circle cx="355.09" cy="377.60" r="1.32" fill="#555" stroke="#111" stroke-width="1.06"/>
<circle cx="373.77" cy="377.60" r="1.32" fill="#555" stroke="#111" stroke-width="1.06"/>
<circle cx="392.45" cy="377.60" r="1.32" fill="#555" stroke="#111" stroke-width="1.06"/>
<path d="M321.55 362.36L324.61 362.36L323.08 365.11Z" fill="#111111"/>
<path d="M324.21 364.31L327.27 364.31L325.74 367.06Z" fill="#111111"/>
<path d="M334.89 363.37L337.95 363.37L336.42 366.13Z" fill="#111111"/>
<path d="M353.56 368.20L356.62 368.20L355.09 370.95Z" fill="#111111"/>
<path d="M428.27 361.97L431.33 361.97L429.80 364.72Z" fill="#111111"/>
<path d="M310.87 370.54L313.93 370.54L312.40 373.29Z" fill="#111111"/>
<path d="M313.54 374.43L316.60 374.43L315.07 377.18Z" fill="#111111"/>
<path d="M304.40 319.20V377.60H429.80" fill="none" stroke="#000" stroke-width="1.3" opacity="0.35"/>
<text x="302.00" y="380.50" class="tl" text-anchor="end">0</text>
<text x="302.00" y="361.03" class="tl" text-anchor="end">50</text>
<text x="302.00" y="341.57" class="tl" text-anchor="end">100</text>
<text x="302.00" y="322.10" class="tl" text-anchor="end">150</text>
<text x="317.74" y="386.80" class="tl" text-anchor="middle">0</text>
<text x="344.42" y="386.80" class="tl" text-anchor="middle">10</text>
<text x="371.10" y="386.80" class="tl" text-anchor="middle">20</text>
<text x="397.78" y="386.80" class="tl" text-anchor="middle">30</text>
<text x="424.46" y="386.80" class="tl" text-anchor="middle">40</text>
<path d="M302.20 377.60H304.40 M302.20 358.13H304.40 M302.20 338.67H304.40 M302.20 319.20H304.40 M317.74 377.60V379.80 M344.42 377.60V379.80 M371.10 377.60V379.80 M397.78 377.60V379.80 M424.46 377.60V379.80" stroke="#000" stroke-width="1"/>
<text transform="translate(285.10,346.40) rotate(-90)" class="pg" text-anchor="middle">pg/ml</text>
<text x="367.10" y="395.10" class="dy" text-anchor="middle">Days</text>
<path d="M304.60 387.60V449.30H429.80" fill="none" stroke="#000" stroke-width="1.3"/>
<polyline points="312.59,449.30 317.92,446.83 325.91,445.60 336.57,443.87 373.86,444.36 392.51,445.60 429.80,444.61" fill="none" stroke="#C2B68E" stroke-width="1.25" stroke-linejoin="round"/>
<polyline points="317.92,430.05 320.58,435.97 323.25,437.70 336.57,415.49 392.51,409.81 429.80,414.38" fill="none" stroke="#DD5A50" stroke-width="1.25" stroke-linejoin="round"/>
<polyline points="317.92,449.30 323.25,445.84 325.91,445.10 336.57,447.33 355.21,447.57 392.51,447.82 429.80,447.82" fill="none" stroke="#3A1A48" stroke-width="1.25" stroke-linejoin="round"/>
<polyline points="312.59,430.05 317.92,443.38 323.25,439.67 325.91,438.54 336.57,430.30 355.21,425.85 429.80,424.37" fill="none" stroke="#1a1a1a" stroke-width="1.25" stroke-linejoin="round"/>
<path d="M316.47 430.05L317.92 428.60L319.36 430.05L317.92 431.49Z" fill="#E8453A"/>
<path d="M319.14 435.97L320.58 434.53L322.03 435.97L320.58 437.42Z" fill="#E8453A"/>
<path d="M321.80 437.70L323.25 436.26L324.69 437.70L323.25 439.15Z" fill="#E8453A"/>
<path d="M335.12 415.49L336.57 414.04L338.01 415.49L336.57 416.93Z" fill="#E8453A"/>
<path d="M391.06 409.81L392.51 408.37L393.95 409.81L392.51 411.26Z" fill="#E8453A"/>
<path d="M428.36 414.38L429.80 412.93L431.25 414.38L429.80 415.82Z" fill="#E8453A"/>
<rect x="321.80" y="444.40" width="2.89" height="2.89" fill="#4a2a55" stroke="#1a0a1e" stroke-width="0.68"/>
<rect x="324.47" y="443.66" width="2.89" height="2.89" fill="#4a2a55" stroke="#1a0a1e" stroke-width="0.68"/>
<rect x="353.77" y="446.13" width="2.89" height="2.89" fill="#4a2a55" stroke="#1a0a1e" stroke-width="0.68"/>
<circle cx="312.59" cy="449.30" r="1.32" fill="#555" stroke="#111" stroke-width="1.06"/>
<circle cx="317.92" cy="449.30" r="1.32" fill="#555" stroke="#111" stroke-width="1.06"/>
<circle cx="317.92" cy="446.83" r="1.32" fill="#555" stroke="#111" stroke-width="1.06"/>
<circle cx="336.57" cy="443.87" r="1.32" fill="#555" stroke="#111" stroke-width="1.06"/>
<circle cx="373.86" cy="444.36" r="1.32" fill="#555" stroke="#111" stroke-width="1.06"/>
<circle cx="392.51" cy="445.60" r="1.32" fill="#555" stroke="#111" stroke-width="1.06"/>
<path d="M311.06 428.83L314.12 428.83L312.59 431.58Z" fill="#111111"/>
<path d="M316.39 442.15L319.45 442.15L317.92 444.91Z" fill="#111111"/>
<path d="M321.72 438.45L324.78 438.45L323.25 441.20Z" fill="#111111"/>
<path d="M324.38 437.32L327.44 437.32L325.91 440.07Z" fill="#111111"/>
<path d="M335.04 429.07L338.10 429.07L336.57 431.83Z" fill="#111111"/>
<path d="M353.68 424.63L356.74 424.63L355.21 427.38Z" fill="#111111"/>
<path d="M428.27 423.15L431.33 423.15L429.80 425.90Z" fill="#111111"/>
<path d="M304.60 387.60V449.30H429.80" fill="none" stroke="#000" stroke-width="1.3" opacity="0.35"/>
<text x="302.20" y="452.20" class="tl" text-anchor="end">0</text>
<text x="302.20" y="439.86" class="tl" text-anchor="end">50</text>
<text x="302.20" y="427.52" class="tl" text-anchor="end">100</text>
<text x="302.20" y="415.18" class="tl" text-anchor="end">150</text>
<text x="302.20" y="402.84" class="tl" text-anchor="end">200</text>
<text x="302.20" y="390.50" class="tl" text-anchor="end">250</text>
<text x="317.92" y="458.50" class="tl" text-anchor="middle">0</text>
<text x="344.56" y="458.50" class="tl" text-anchor="middle">10</text>
<text x="371.20" y="458.50" class="tl" text-anchor="middle">20</text>
<text x="397.83" y="458.50" class="tl" text-anchor="middle">30</text>
<text x="424.47" y="458.50" class="tl" text-anchor="middle">40</text>
<path d="M302.40 449.30H304.60 M302.40 436.96H304.60 M302.40 424.62H304.60 M302.40 412.28H304.60 M302.40 399.94H304.60 M302.40 387.60H304.60 M317.92 449.30V451.50 M344.56 449.30V451.50 M371.20 449.30V451.50 M397.83 449.30V451.50 M424.47 449.30V451.50" stroke="#000" stroke-width="1"/>
<text transform="translate(284.80,418.50) rotate(-90)" class="pg" text-anchor="middle">pg/ml</text>
<text x="367.20" y="467.00" class="dy" text-anchor="middle">Days</text>
<text x="109" y="9.6" class="tt">No Cyclophosphamide</text>
<text x="313.4" y="9.6" class="tt">Cyclophosphamide</text>
<text x="0" y="63.1" class="rl">IL-2</text>
<text x="0" y="133.5" class="rl">IL-7</text>
<text x="0" y="205.3" class="rl">IL-12 (p40)</text>
<text x="0" y="273.9" class="rl">IL-15</text>
<text x="0" y="343.75" class="rl">INF-γ</text>
<text x="0" y="413.75" class="rl">TNF-α</text>
<line x1="482.8" y1="13.2" x2="494.8" y2="13.2" stroke="#F0A040" stroke-width="1.5"/>
<path d="M485.50 13.20L488.30 10.82L491.10 13.20L488.30 15.58Z" fill="#F0A040"/>
<text x="500.1" y="16.00" class="lg">CLL1</text>
<line x1="482.8" y1="22.7" x2="494.8" y2="22.7" stroke="#2DAA4E" stroke-width="1.5"/>
<circle cx="488.30" cy="22.70" r="2.10" fill="#3fbf5f" stroke="#2DAA4E" stroke-width="0.84"/>
<text x="500.1" y="25.50" class="lg">CLL2</text>
<line x1="482.8" y1="34.8" x2="494.8" y2="34.8" stroke="#3B4E9E" stroke-width="1.5"/>
<path d="M485.78 36.82L488.30 32.28L490.82 36.82Z" fill="#3B4E9E"/>
<text x="500.1" y="37.60" class="lg">CLL3</text>
<line x1="482.8" y1="46.7" x2="494.8" y2="46.7" stroke="#111111" stroke-width="1.5"/>
<path d="M485.78 44.68L490.82 44.68L488.30 49.22Z" fill="#111111"/>
<text x="500.1" y="49.50" class="lg">CLL5</text>
<line x1="482.8" y1="58.5" x2="494.8" y2="58.5" stroke="#E8453A" stroke-width="1.5"/>
<path d="M485.92 58.50L488.30 56.12L490.68 58.50L488.30 60.88Z" fill="#E8453A"/>
<text x="500.1" y="61.30" class="lg">CLL6</text>
<line x1="482.8" y1="70.5" x2="494.8" y2="70.5" stroke="#b8ae88" stroke-width="1.5"/>
<circle cx="488.30" cy="70.50" r="2.17" fill="#bbb" stroke="#111" stroke-width="1.75"/>
<text x="500.1" y="73.30" class="lg">CLL7</text>
<line x1="482.8" y1="82.6" x2="494.8" y2="82.6" stroke="#3A1848" stroke-width="1.5"/>
<rect x="485.92" y="80.22" width="4.76" height="4.76" fill="#6a4a78" stroke="#1a0a1e" stroke-width="1.12"/>
<text x="500.1" y="85.40" class="lg">ALL1</text>
</svg>
</body></html>
